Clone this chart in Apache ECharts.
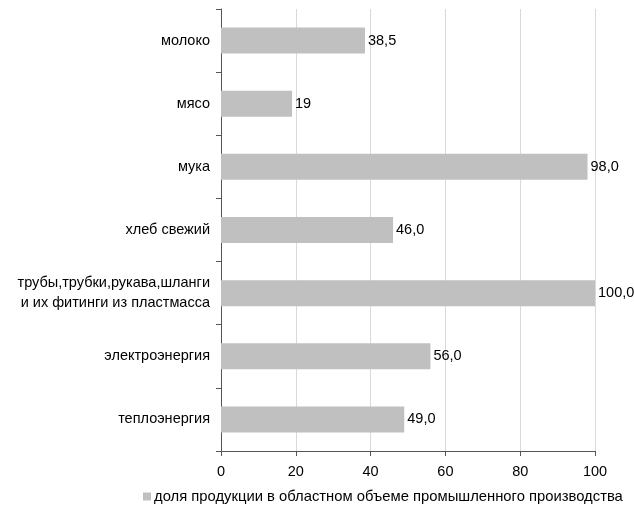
<!DOCTYPE html>
<html>
<head>
<meta charset="utf-8">
<script src="https://cdn.jsdelivr.net/npm/echarts@6/dist/echarts.min.js"></script>
<style>
  html, body { margin: 0; padding: 0; background: #fff; }
  #chart { width: 634px; height: 510px; }
</style>
</head>
<body>
<div id="chart"></div>
<script>
// категории сверху вниз
const categories = [
  'молоко',
  'мясо',
  'мука',
  'хлеб свежий',
  'трубы,трубки,рукава,шланги\nи их фитинги из пластмасса',
  'электроэнергия',
  'теплоэнергия'
]
const values = [38.5, 19, 98.0, 46.0, 100.0, 56.0, 49.0]
const valueLabels = ['38,5', '19', '98,0', '46,0', '100,0', '56,0', '49,0']
const xTicks = [0, 20, 40, 60, 80, 100]
const seriesName = 'доля продукции в областном объеме промышленного производства'

const myChart = echarts.init(document.getElementById('chart'))
const option = {
  animation: false,
  textStyle: { fontFamily: 'Liberation Sans, Arial, sans-serif' },
  grid: { left: 221, right: 39, top: 9, bottom: 59 },
  legend: {
    bottom: 1,
    left: 138,
    icon: 'rect',
    itemWidth: 8,
    itemHeight: 8,
    itemGap: 4,
    textStyle: { fontSize: 14.8, color: '#000', padding: [0, 0, 0, -2] },
    data: [seriesName]
  },
  xAxis: {
    type: 'value',
    min: xTicks[0],
    max: xTicks[xTicks.length - 1],
    interval: 20,
    axisLine: { show: true, lineStyle: { color: '#555', width: 1 } },
    axisTick: { show: true, length: 5, lineStyle: { color: '#555' } },
    axisLabel: { color: '#000', fontSize: 14.5, margin: 13 },
    splitLine: { show: true, lineStyle: { color: '#d9d9d9', width: 1 } }
  },
  yAxis: {
    type: 'category',
    inverse: true,
    data: categories,
    axisLine: { show: true, lineStyle: { color: '#555', width: 1 } },
    axisTick: { show: true, length: 5, alignWithLabel: false, lineStyle: { color: '#555' } },
    axisLabel: { color: '#000', fontSize: 14.5, margin: 11, lineHeight: 20 }
  },
  series: [
    {
      name: seriesName,
      type: 'bar',
      data: values,
      barWidth: 26,
      itemStyle: { color: '#c0c0c0' },
      label: {
        show: true,
        position: 'right',
        distance: 3,
        color: '#000',
        fontSize: 14.5,
        formatter: (p) => valueLabels[p.dataIndex]
      }
    }
  ]
}
myChart.setOption(option)
</script>
</body>
</html>
